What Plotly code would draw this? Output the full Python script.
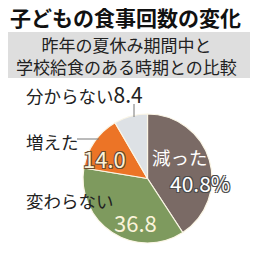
import plotly.graph_objects as go

labels = ["減った", "変わらない", "増えた", "分からない"]
values = [40.8, 36.8, 14.0, 8.4]
colors = ["#7a6a65", "#7e9a5e", "#ec7426", "#dde1e5"]

title = "子どもの食事回数の変化"
subtitle = ["昨年の夏休み期間中と", "学校給食のある時期との比較"]

W = H = 256
def px(x):
    return x / W
def py(y):
    return 1 - y / H

JP = "Noto Sans CJK JP"

fig = go.Figure()
fig.add_trace(go.Pie(
    labels=labels, values=values, sort=False, direction="clockwise", rotation=0,
    marker=dict(colors=colors, line=dict(color="#fbf6e6", width=1.2)),
    textinfo="none", hoverinfo="none", showlegend=False,
    domain=dict(x=[px(82), px(213)], y=[py(243), py(114)]),
))

shapes = [
    dict(type="rect", xref="paper", yref="paper", x0=px(8), x1=px(250), y0=py(78), y1=py(32),
         fillcolor="#dedede", line=dict(width=0), layer="below"),
    dict(type="line", xref="paper", yref="paper", x0=px(134), x1=px(134), y0=py(104), y1=py(117),
         line=dict(color="#777", width=1)),
    dict(type="line", xref="paper", yref="paper", x0=px(77), x1=px(99), y0=py(139), y1=py(139),
         line=dict(color="#777", width=1)),
]

outline = "-1px -1px 0 #4a4a4a, 1px -1px 0 #4a4a4a, -1px 1px 0 #4a4a4a, 1px 1px 0 #4a4a4a"
outline2 = "-1px -1px 0 #6a4a30, 1px -1px 0 #6a4a30, -1px 1px 0 #6a4a30, 1px 1px 0 #6a4a30"

def ann(text, x, y, size, color="#111", bold=False, shadow=None, xanchor="center"):
    f = dict(family=JP, size=size, color=color)
    if bold:
        f["weight"] = "bold"
    if shadow:
        f["shadow"] = shadow
    return dict(text=text, x=px(x), y=py(y), xref="paper", yref="paper", showarrow=False,
                font=f, xanchor=xanchor, yanchor="middle")

anns = [
    ann(title, 125, 17, 21, bold=True),
    ann("<br>".join(subtitle), 126, 55, 17, color="#222"),
    ann(f"{labels[3]}<span style='font-size:21px'>{values[3]}</span>", 24, 94, 17.5,
        color="#222", xanchor="left"),
    ann(labels[2], 24, 141, 17.5, color="#222", xanchor="left"),
    ann(labels[1], 24, 200, 17.5, color="#222", xanchor="left"),
    ann(labels[0], 180, 157, 18.5, color="#ffffff"),
    ann(f"{values[0]}%", 200, 183, 21, color="#ffffff", shadow=outline),
    ann(f"{values[1]}", 135, 222, 22, color="#fbf3da"),
    ann(f"{values[2]}", 104, 158, 22, color="#fbf3da", shadow=outline2),
]

fig.update_layout(width=W, height=H, margin=dict(l=0, r=0, t=0, b=0),
                  paper_bgcolor="white", plot_bgcolor="white",
                  shapes=shapes, annotations=anns)
fig.write_html("out.html")
